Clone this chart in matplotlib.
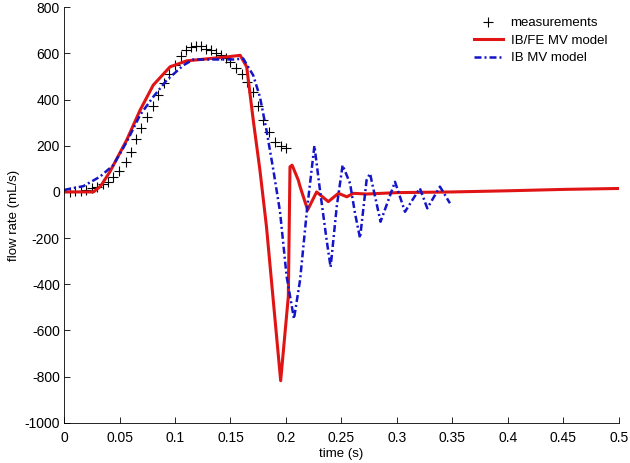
import matplotlib
matplotlib.use("Agg")
from matplotlib import pyplot as plt

plt.rcParams['font.family'] = ['Liberation Sans', 'DejaVu Sans']
plt.rcParams['axes.unicode_minus'] = False

# measurements
meas_t = [0.005, 0.010, 0.015, 0.020, 0.025, 0.030, 0.0355, 0.0399, 0.0445, 0.0498,
          0.0556, 0.0600, 0.0649, 0.0695, 0.0751, 0.0799, 0.0850, 0.0901, 0.0949, 0.1000,
          0.1051, 0.1099, 0.1144, 0.1190, 0.1235, 0.1279, 0.1324, 0.1368, 0.1414, 0.1458,
          0.1495, 0.1550, 0.1600, 0.1652, 0.1700, 0.1751, 0.1796, 0.1850, 0.1901, 0.1952,
          0.2000]
meas_q = [0, 2, 5, 9, 15, 23, 34, 44, 66, 90,
          128, 174, 228, 275, 323, 372, 419, 470, 513, 552,
          589, 614, 628, 633, 633, 621, 614, 604, 592, 580,
          561, 539, 513, 477, 434, 372, 311, 261, 217, 199,
          189]

# IB/FE MV model
ibfe_t = [0.0, 0.010, 0.020, 0.0265, 0.033, 0.0414, 0.0565, 0.0685, 0.0804, 0.0955,
          0.1105, 0.1315, 0.1466, 0.1587, 0.1646, 0.1705, 0.1765, 0.1824, 0.1952, 0.2021,
          0.2036, 0.2055, 0.2111, 0.2127, 0.2195, 0.2276, 0.2381, 0.2472, 0.2548, 0.2607,
          0.2726, 0.30, 0.35, 0.40, 0.45, 0.50]
ibfe_q = [0, 0, 0, 0, 25, 88, 225, 354, 463, 542,
          568, 578, 585, 592, 542, 311, 95, -150, -818, -453,
          109, 116, 51, 23, -78, 0, -42, -6, -21, -6,
          -9, -3, 0, 5, 11, 15]

# IB MV model
ib_t = [0.0, 0.0024, 0.0174, 0.0324, 0.0444, 0.0565, 0.0685, 0.0804, 0.0925, 0.1076,
        0.1165, 0.1315, 0.1525, 0.1615, 0.1655, 0.1705, 0.1765, 0.1824, 0.1886, 0.1946,
        0.2006, 0.2072, 0.2127, 0.2189, 0.2256, 0.2306, 0.2366, 0.2402, 0.2457, 0.2510,
        0.2577, 0.2622, 0.2667, 0.2726, 0.2757, 0.2852, 0.2982, 0.3072, 0.3206, 0.3273,
        0.3387, 0.3477]
ib_q = [8, 11, 25, 66, 116, 217, 333, 412, 484, 549,
        574, 574, 574, 578, 545, 505, 412, 268, 95, -85,
        -367, -550, -381, -78, 200, 8, -208, -326, -64, 116,
        37, -93, -200, 51, 80, -129, 44, -86, 16, -71,
        23, -49]

fig = plt.figure(figsize=(6.3, 4.63), dpi=100)
ax = fig.add_axes([0.1016, 0.087, 0.8809, 0.8972])

ax.plot(meas_t, meas_q, linestyle='none', marker='+', color='black',
        markersize=6.5, markeredgewidth=0.8, label='measurements')
ax.plot(ibfe_t, ibfe_q, color='#e01414', linewidth=2.2, label='IB/FE MV model')
ax.plot(ib_t, ib_q, color='#1414c8', linewidth=1.8, linestyle=(0, (2.8, 1.2, 0.8, 1.2)),
        label='IB MV model')

ax.set_xlim(0, 0.5)
ax.set_ylim(-1000, 800)
ax.set_xticks([0, 0.05, 0.1, 0.15, 0.2, 0.25, 0.3, 0.35, 0.4, 0.45, 0.5])
ax.set_xticklabels(['0', '0.05', '0.1', '0.15', '0.2', '0.25', '0.3', '0.35', '0.4', '0.45', '0.5'])
ax.set_yticks(range(-1000, 801, 200))
ax.tick_params(direction='in', length=4, width=0.6, labelsize=10)
ax.tick_params(axis='x', pad=6)
ax.tick_params(axis='y', pad=3)
ax.spines['top'].set_visible(False)
ax.spines['right'].set_visible(False)
for s in ['left', 'bottom']:
    ax.spines[s].set_linewidth(0.6)

ax.set_xlabel('time (s)', fontsize=9.5, labelpad=2)
ax.set_ylabel('flow rate (mL/s)', fontsize=9.5, labelpad=3)

ax.legend(loc='upper right', bbox_to_anchor=(1.0, 1.005), frameon=False, fontsize=9.5,
          handlelength=2.2, handletextpad=0.6, labelspacing=0.4)

fig.savefig('out.png', dpi=100)
